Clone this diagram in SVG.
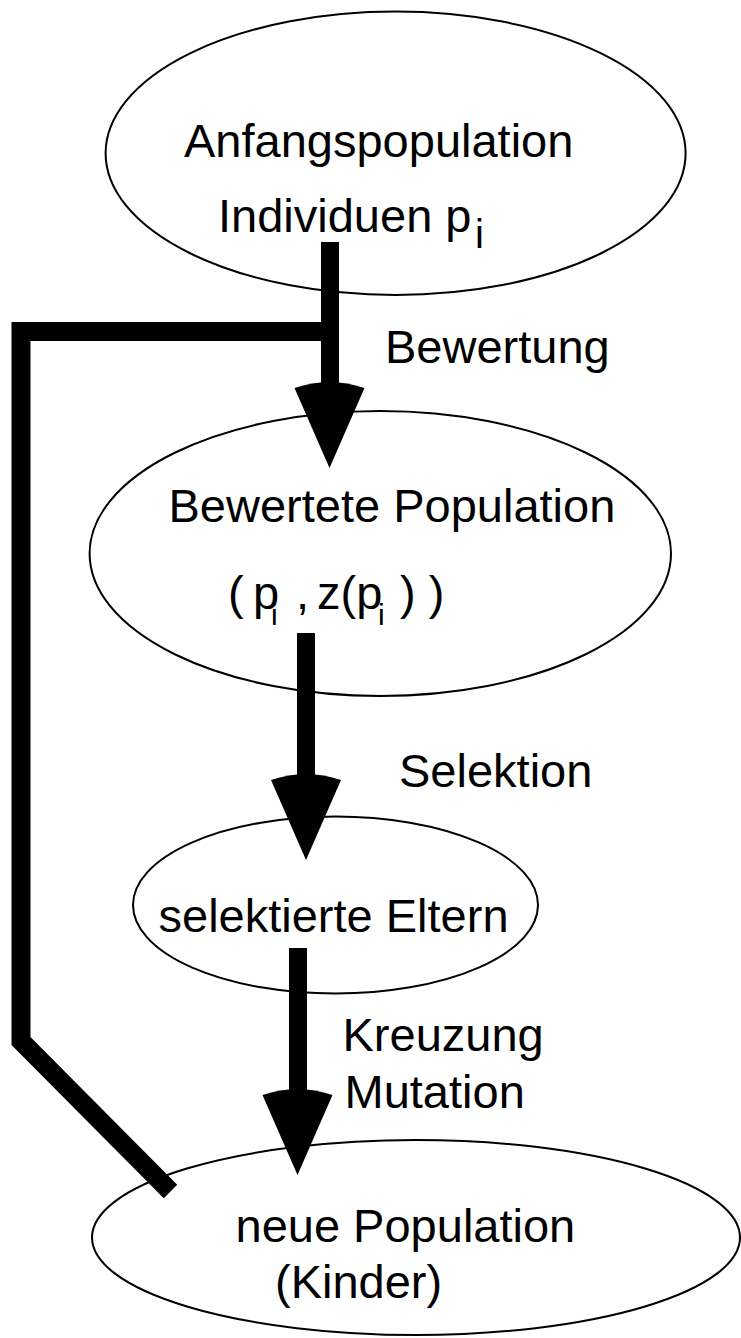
<svg xmlns="http://www.w3.org/2000/svg" width="741" height="1338" viewBox="0 0 741 1338">
<style>
.node{fill:#ffffff;stroke:#000000;stroke-width:2}
.t{font-family:"Liberation Sans",Arial,sans-serif;font-size:47px;fill:#000000}
.sub{font-family:"Liberation Sans",Arial,sans-serif;fill:#000000}
.shaft{stroke:#000000;stroke-width:18;fill:none}
.loop{stroke:#000000;stroke-width:19;fill:none;stroke-linejoin:miter;stroke-linecap:butt}
.head{fill:#000000}
</style>
<defs>
<path id="ah" d="M0,0 L-35,-80 Q0,-92 35,-80 Z"/>
</defs>
<rect width="741" height="1338" fill="#ffffff"/>
<g id="n1">
<ellipse class="node" cx="395.6" cy="153.3" rx="290" ry="141.7"/>
<text class="t" x="184" y="157">Anfangspopulation</text>
<text class="t" x="218" y="232">Individuen p</text>
<text class="sub" x="475" y="248" font-size="40">i</text>
</g>
<g id="n2">
<ellipse class="node" cx="380.3" cy="553.5" rx="290.7" ry="142.5"/>
<text class="t" x="168.5" y="522">Bewertete Population</text>
<text class="t" x="228" y="609">(</text>
<text class="t" x="253" y="609">p</text>
<text class="sub" x="271" y="625" font-size="30">i</text>
<text class="t" x="296" y="609">,</text>
<text class="t" x="317" y="609">z(p</text>
<text class="sub" x="378" y="625" font-size="30">i</text>
<text class="t" x="400" y="609">) )</text>
</g>
<g id="n3">
<ellipse class="node" cx="335.5" cy="905" rx="202.5" ry="88.5"/>
<text class="t" x="158.5" y="932">selektierte Eltern</text>
</g>
<g id="n4">
<ellipse class="node" cx="416" cy="1237.5" rx="324" ry="97.5"/>
<text class="t" x="235.5" y="1242">neue Population</text>
<text class="t" x="275" y="1298">(Kinder)</text>
</g>
<g id="connectors">
<line class="shaft" x1="330" y1="242" x2="330" y2="392"/>
<use href="#ah" class="head" x="329.5" y="468"/>
<line class="shaft" x1="306" y1="633" x2="306" y2="784"/>
<use href="#ah" class="head" x="306" y="860"/>
<line class="shaft" x1="298" y1="948" x2="298" y2="1099"/>
<use href="#ah" class="head" x="297.5" y="1175"/>
<polyline class="loop" points="330,331.5 21,331.5 21,1041 170.5,1191.5"/>
</g>
<g id="labels">
<text class="t" x="385" y="363">Bewertung</text>
<text class="t" x="399" y="787">Selektion</text>
<text class="t" x="342.5" y="1051">Kreuzung</text>
<text class="t" x="344.5" y="1108">Mutation</text>
</g>
</svg>
